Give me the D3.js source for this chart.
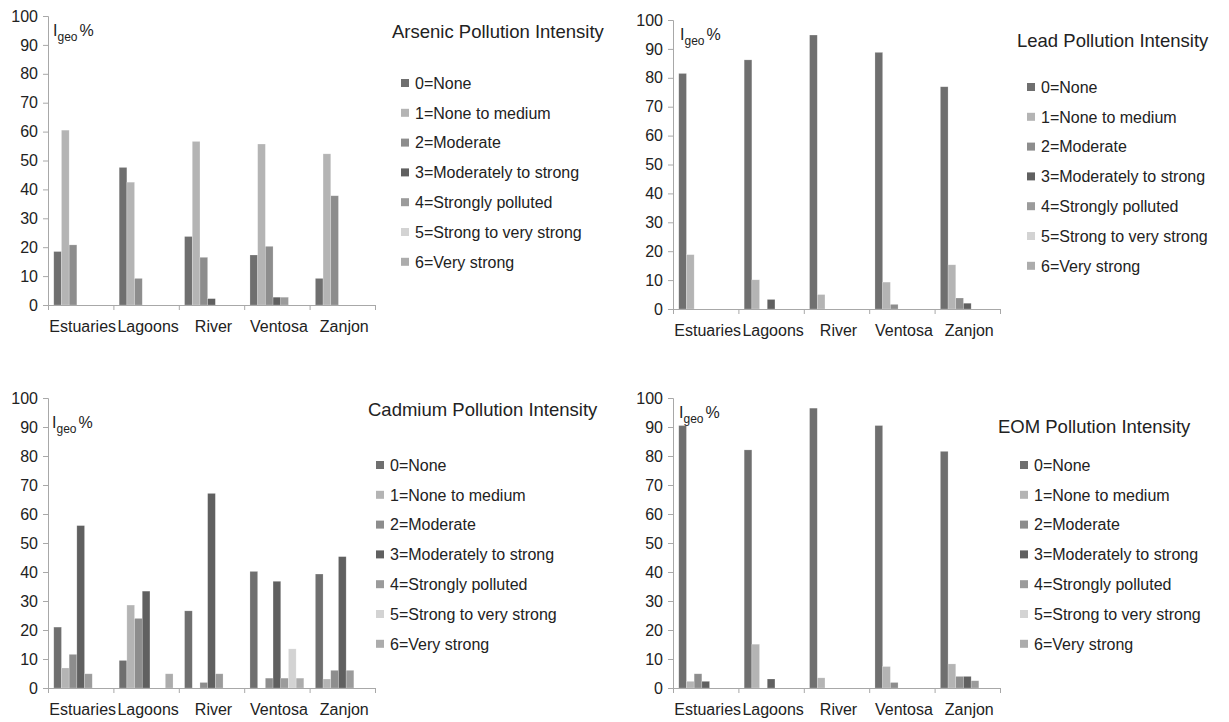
<!DOCTYPE html>
<html>
<head>
<meta charset="utf-8">
<script src="https://cdn.jsdelivr.net/npm/d3@7"></script>
<style>
  body { margin: 0; background: #fff; }
  text { font-family: "Liberation Sans", Arial, sans-serif; fill: #222; }
</style>
</head>
<body>
<svg id="chart" width="1229" height="722"></svg>
<script>
const sites = ["Estuaries", "Lagoons", "River", "Ventosa", "Zanjon"];
const classes = [
  "0=None", "1=None to medium", "2=Moderate", "3=Moderately to strong",
  "4=Strongly polluted", "5=Strong to very strong", "6=Very strong"
];
const yTicks = [0, 10, 20, 30, 40, 50, 60, 70, 80, 90, 100];

// % of samples in each Igeo class, one row per site (classes 0..6)
const arsenic = [
  [18.5, 60.5, 20.8, 0, 0, 0, 0],
  [47.6, 42.5, 9.2, 0, 0, 0, 0],
  [23.7, 56.6, 16.5, 2.2, 0, 0, 0],
  [17.3, 55.7, 20.3, 2.7, 2.7, 0, 0],
  [9.2, 52.3, 37.8, 0, 0, 0, 0]
];
const lead = [
  [81.5, 18.8, 0, 0, 0, 0, 0],
  [86.2, 10.1, 0, 3.3, 0, 0, 0],
  [94.8, 5.0, 0, 0, 0, 0, 0],
  [88.8, 9.3, 1.6, 0, 0, 0, 0],
  [76.9, 15.3, 3.8, 2.0, 0, 0, 0]
];
const cadmium = [
  [21.0, 6.9, 11.6, 56.0, 4.9, 0, 0],
  [9.5, 28.6, 24.0, 33.4, 0, 0, 4.9],
  [26.6, 0, 1.9, 67.1, 4.9, 0, 0],
  [40.2, 0, 3.4, 36.8, 3.4, 13.5, 3.4],
  [39.3, 3.1, 6.1, 45.3, 6.1, 0, 0]
];
const eom = [
  [90.5, 2.3, 4.9, 2.3, 0, 0, 0],
  [82.1, 15.1, 0, 3.1, 0, 0, 0],
  [96.5, 3.5, 0, 0, 0, 0, 0],
  [90.5, 7.4, 1.9, 0, 0, 0, 0],
  [81.6, 8.3, 4.0, 4.0, 2.5, 0, 0]
];

const colors = ["#6f6f6f", "#b4b4b4", "#8d8d8d", "#606060", "#9b9b9b", "#d3d3d3", "#acacac"];

const panels = [
  { title: "Arsenic Pollution Intensity", data: arsenic,
    ox: 48, top: 16, bottom: 305, tx: 392, ty: 38, lx: 401, ly: 83, ix: 53, iy: 36 },
  { title: "Lead Pollution Intensity", data: lead,
    ox: 673, top: 20, bottom: 309, tx: 1017, ty: 47, lx: 1027, ly: 87, ix: 680, iy: 40 },
  { title: "Cadmium Pollution Intensity", data: cadmium,
    ox: 48, top: 398, bottom: 688, tx: 368, ty: 416, lx: 376, ly: 465, ix: 52, iy: 428 },
  { title: "EOM Pollution Intensity", data: eom,
    ox: 673, top: 398, bottom: 688, tx: 998, ty: 433, lx: 1020, ly: 465, ix: 679, iy: 418 }
];

const svg = d3.select("#chart");
const plotW = 327;
const axisColor = "#a8a8a8";

panels.forEach(p => {
  const g = svg.append("g").attr("transform", `translate(${p.ox},0)`);

  const x0 = d3.scaleBand().domain(sites).range([0, plotW]).padding(0);
  const x1 = d3.scaleBand().domain(d3.range(classes.length))
    .range([0, x0.bandwidth()]).paddingInner(0).paddingOuter(0.75);
  const y = d3.scaleLinear().domain([0, 100]).range([p.bottom, p.top]);

  // bars
  g.selectAll(".site")
    .data(p.data)
    .join("g")
    .attr("transform", (d, i) => `translate(${x0(sites[i])},0)`)
    .selectAll("rect")
    .data(d => d.map((v, k) => ({ v, k })).filter(e => e.v > 0))
    .join("rect")
    .attr("x", e => x1(e.k))
    .attr("width", x1.bandwidth())
    .attr("y", e => y(e.v))
    .attr("height", e => y(0) - y(e.v))
    .attr("fill", e => colors[e.k])
    .attr("stroke", "#ffffff")
    .attr("stroke-opacity", 0.35)
    .attr("stroke-width", 0.6);

  // y axis
  const yAxis = g.append("g")
    .call(d3.axisLeft(y).tickValues(yTicks).tickSize(5).tickPadding(5));
  yAxis.select(".domain").attr("stroke", axisColor);
  yAxis.selectAll(".tick line").attr("stroke", axisColor);
  yAxis.selectAll("text").style("font-size", "16px").attr("fill", "#222");

  // x axis: tick marks at category boundaries, labels centred in each band
  const xb = d3.scaleLinear().domain([0, sites.length]).range([0, plotW]);
  const xTickAxis = g.append("g").attr("transform", `translate(0,${p.bottom})`)
    .call(d3.axisBottom(xb).tickValues(d3.range(sites.length + 1)).tickSize(5).tickFormat(""));
  xTickAxis.select(".domain").attr("stroke", axisColor);
  xTickAxis.selectAll(".tick line").attr("stroke", axisColor);

  const xLab = g.append("g").attr("transform", `translate(0,${p.bottom})`)
    .call(d3.axisBottom(x0).tickSize(0).tickPadding(16));
  xLab.select(".domain").remove();
  xLab.selectAll("text").style("font-size", "16px").attr("fill", "#222")
    .attr("dx", 2);

  // Igeo % label
  const lab = svg.append("text").attr("x", p.ix).attr("y", p.iy).style("font-size", "16px");
  lab.append("tspan").text("I");
  lab.append("tspan").attr("dy", 5).style("font-size", "12px").text("geo");
  lab.append("tspan").attr("dy", -5).attr("dx", 2).text("%");

  // title
  svg.append("text").attr("x", p.tx).attr("y", p.ty)
    .style("font-size", "18.5px").text(p.title);

  // legend
  const lg = svg.append("g").attr("transform", `translate(${p.lx},${p.ly})`);
  const item = lg.selectAll("g").data(classes).join("g")
    .attr("transform", (d, i) => `translate(0,${i * 29.8})`);
  item.append("rect").attr("x", 0).attr("y", -4).attr("width", 8).attr("height", 8)
    .attr("fill", (d, i) => colors[i]);
  item.append("text").attr("x", 14).attr("y", 5.8).style("font-size", "16px").text(d => d);
});
</script>
</body>
</html>
